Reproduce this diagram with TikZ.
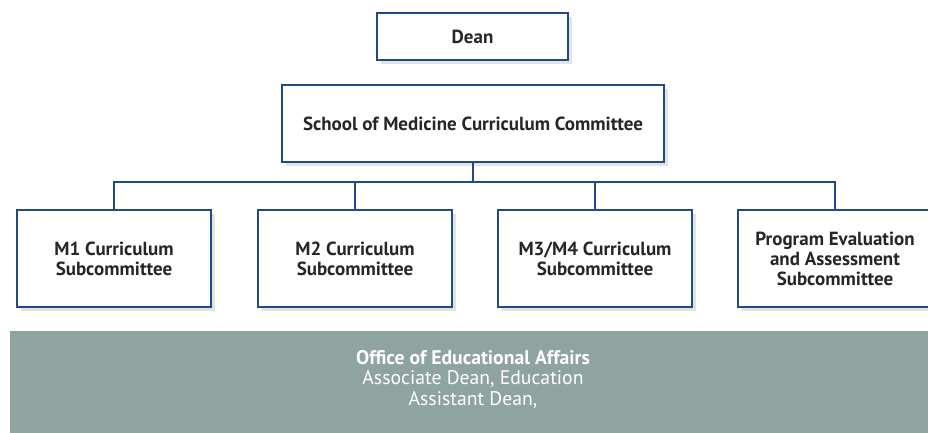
\documentclass[tikz,border=0pt]{standalone}
\usepackage{fontspec}
\setmainfont{PT Sans}
\usepackage{xcolor}
\usetikzlibrary{positioning, shadows}

\definecolor{orgblue}{HTML}{1E4A86}
\definecolor{bannergray}{HTML}{8FA3A1}

\begin{document}
\begin{tikzpicture}[x=0.025cm, y=-0.025cm,
    orgbox/.style={draw=orgblue, line width=2.1pt, fill=white, align=center,
        font=\bfseries\fontsize{13.5}{14.3}\selectfont, text=black!85,
        drop shadow={shadow xshift=3pt, shadow yshift=-3pt, opacity=0.22}},
    link/.style={draw=orgblue, line width=2.1pt}]
    \useasboundingbox (0,0) rectangle (928,433);

    \node[orgbox, minimum width=191*0.025cm, minimum height=47*0.025cm] (dean) at (472.5,36.5) {Dean};
    \node[orgbox, minimum width=382*0.025cm, minimum height=77*0.025cm] (som) at (473,123.5) {School of Medicine Curriculum Committee};

    \coordinate (bus) at (473,182);
    \foreach \name/\x/\txt in {m1/114/{M1 Curriculum\\Subcommittee},
                               m2/355/{M2 Curriculum\\Subcommittee},
                               m34/595/{M3/M4 Curriculum\\Subcommittee},
                               pea/835/{Program Evaluation\\and Assessment\\Subcommittee}}
        \node[orgbox, minimum width=194*0.025cm, minimum height=97*0.025cm] (\name) at (\x,258.5) {\txt};

    \draw[link] (som.south) -- (bus);
    \foreach \name in {m1, m2, m34, pea}
        \draw[link] (\name.north) -- (\name.north |- bus) -- (bus);

    \fill[bannergray] (10,331) rectangle (940,440);
    \node[text=white, align=center, font=\fontsize{14}{14.6}\selectfont] (oea) at (473,379)
        {{\bfseries Office of Educational Affairs}\\Associate Dean, Education\\Assistant Dean,};
\end{tikzpicture}
\end{document}
